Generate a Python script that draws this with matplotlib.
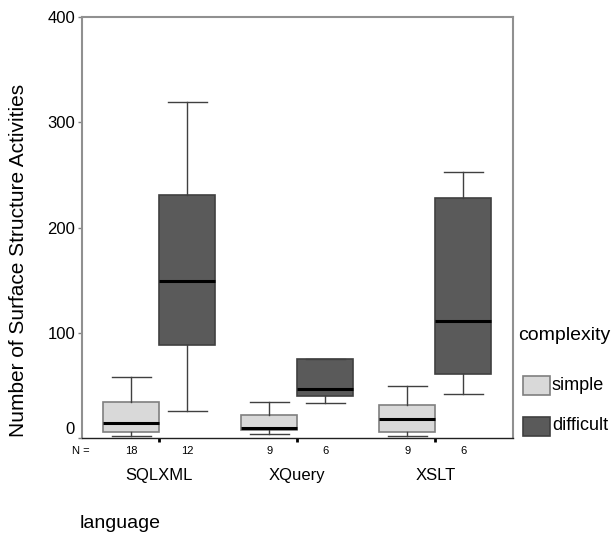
import matplotlib
matplotlib.use("Agg")
import matplotlib.pyplot as plt
from matplotlib.patches import Rectangle
from matplotlib.transforms import ScaledTranslation, blended_transform_factory

plt.rcParams['font.family'] = ['Liberation Sans', 'DejaVu Sans']

# данные
languages = ['SQLXML', 'XQuery', 'XSLT']
groups = ['simple', 'difficult']
counts = {'simple': [18, 9, 9], 'difficult': [12, 6, 6]}

whislo = {'simple': [1.9, 3.5, 1.6], 'difficult': [25.7, 33.0, 41.8]}
q1 = {'simple': [5.4, 7.9, 5.4], 'difficult': [88.0, 39.6, 61.0]}
med = {'simple': [14.3, 9.8, 17.8], 'difficult': [149.0, 46.3, 111.0]}
q3 = {'simple': [34.5, 21.6, 31.0], 'difficult': [231.0, 74.8, 228.0]}
whishi = {'simple': [57.7, 34.2, 49.0], 'difficult': [319.0, 74.8, 253.0]}

colors = {'simple': ('#d9d9d9', '#7f7f7f'), 'difficult': ('#5a5a5a', '#404040')}

W, H = 616, 538
fig = plt.figure(figsize=(W / 100, H / 100), dpi=100)
ax = fig.add_axes([82 / W, 1 - 438 / H, (512.7 - 82) / W, (438 - 17.3) / H])

bw = 0.405
for k, g in enumerate(groups):
    offset = (k - 0.5) * bw
    stats = []
    for i in range(len(languages)):
        stats.append({'med': med[g][i], 'q1': q1[g][i], 'q3': q3[g][i],
                      'whislo': whislo[g][i], 'whishi': whishi[g][i], 'fliers': []})
    face, edge = colors[g]
    ax.bxp(stats, positions=[i + offset for i in range(len(languages))],
           widths=bw, capwidths=bw * 0.7, patch_artist=True, showfliers=False,
           boxprops=dict(facecolor=face, edgecolor=edge, linewidth=1.2),
           medianprops=dict(color='black', linewidth=2.2),
           whiskerprops=dict(color='#404040', linewidth=1),
           capprops=dict(color='#404040', linewidth=1),
           manage_ticks=False)

ax.set_xlim(-0.56, 2.561)
ax.set_ylim(0, 400)
ax.set_yticks([0, 100, 200, 300, 400])
ax.set_xticks(range(len(languages)))
ax.set_xticklabels([])
ax.tick_params(axis='x', direction='out', length=3, width=2, color='black')
ax.tick_params(axis='y', direction='out', length=3, width=1, color='#808080',
               labelsize=12, pad=2)

for side in ['left', 'top', 'right']:
    ax.spines[side].set_color('#909090')
    ax.spines[side].set_linewidth(1.5)
ax.spines['bottom'].set_color('#202020')
ax.spines['bottom'].set_linewidth(1)

# подпись "0" поднята вверх, как в оригинале
lab0 = ax.get_yticklabels()[0]
lab0.set_transform(lab0.get_transform() + ScaledTranslation(0, 0.1, fig.dpi_scale_trans))

ax.set_ylabel('Number of Surface Structure Activities', fontsize=15)
ax.yaxis.set_label_coords(-0.125, 0.423)

# строка N = и названия языков
tr = blended_transform_factory(ax.transData, ax.transAxes)
ax.text(-0.56 - 0.07, -0.031, 'N =', transform=tr, fontsize=8, ha='left', va='center')
for k, g in enumerate(groups):
    offset = (k - 0.5) * bw
    for i in range(len(languages)):
        ax.text(i + offset, -0.031, str(counts[g][i]), transform=tr,
                fontsize=8, ha='center', va='center')
for i, name in enumerate(languages):
    ax.text(i, -0.09, name, transform=tr, fontsize=12, ha='center', va='center')

fig.text(80 / W, 1 - 523 / H, 'language', fontsize=14, ha='left', va='center')

# легенда
fig.text(518 / W, 1 - 335 / H, 'complexity', fontsize=14, ha='left', va='center')
for g, yc in zip(groups, [385, 426]):
    face, edge = colors[g]
    fig.add_artist(Rectangle((523 / W, 1 - (yc + 9.5) / H), 27 / W, 19 / H,
                             facecolor=face, edgecolor=edge, linewidth=1.2,
                             transform=fig.transFigure))
    fig.text(552 / W, 1 - yc / H, g, fontsize=13, ha='left', va='center')

fig.savefig('out.png', dpi=100)
